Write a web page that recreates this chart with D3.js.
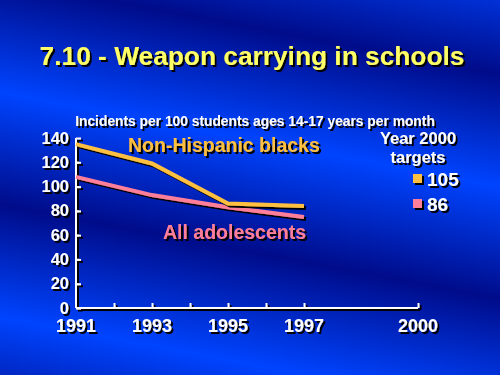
<!DOCTYPE html>
<html lang="en">
<head>
<meta charset="UTF-8">
<title>7.10 - Weapon carrying in schools</title>
<script src="https://d3js.org/d3.v7.min.js"></script>
<style>
    body { margin: 0; background: #0030d0; }
    svg { display: block; }
    text { font-family: "Liberation Sans", Arial, sans-serif; font-weight: bold; }
</style>
</head>
<body>
<div id="chart"></div>
<script>
    // data
    var years = [1991, 1993, 1995, 1997];
    var blacks = [135, 119, 86, 84];
    var allTeens = [108, 93, 83, 75];
    var yTicks = [0, 20, 40, 60, 80, 100, 120, 140];
    var xLabels = [1991, 1993, 1995, 1997, 2000];
    var xTicks = [1992, 1993, 1994, 1995, 1996, 1997, 2000];
    var targets = [105, 86];

    var W = 500, H = 375;
    var orange = "#ffbf3f", pink = "#ff7f9a", yellow = "#ffff66";

    var svg = d3.select("#chart").append("svg")
        .attr("width", W)
        .attr("height", H);

    var defs = svg.append("defs");

    // diagonal banded blue background
    var grad = defs.append("linearGradient")
        .attr("id", "bg")
        .attr("gradientUnits", "userSpaceOnUse")
        .attr("spreadMethod", "repeat")
        .attr("x1", 15).attr("y1", 95)
        .attr("x2", -26).attr("y2", 312);
    grad.append("stop").attr("offset", 0).attr("stop-color", "#0044ff");
    grad.append("stop").attr("offset", 0.5).attr("stop-color", "#000c8a");
    grad.append("stop").attr("offset", 1).attr("stop-color", "#0044ff");

    var f = defs.append("filter").attr("id", "shadow")
        .attr("x", "-10%").attr("y", "-10%").attr("width", "130%").attr("height", "140%");
    f.append("feDropShadow")
        .attr("dx", 2).attr("dy", 2)
        .attr("stdDeviation", 0)
        .attr("flood-color", "#000")
        .attr("flood-opacity", 1);

    svg.append("rect")
        .attr("width", W).attr("height", H)
        .attr("fill", "url(#bg)");

    // title
    svg.append("text")
        .attr("x", 252).attr("y", 65)
        .attr("text-anchor", "middle")
        .attr("font-size", 26.3)
        .attr("fill", yellow)
        .attr("filter", "url(#shadow)")
        .text("7.10 - Weapon carrying in schools");

    svg.append("text")
        .attr("x", 255).attr("y", 126)
        .attr("text-anchor", "middle")
        .attr("font-size", 13.8)
        .attr("fill", "#fff")
        .attr("filter", "url(#shadow)")
        .text("Incidents per 100 students ages 14-17 years per month");

    var x = d3.scaleLinear().domain([1991, 2000]).range([76, 418]);
    var y = d3.scaleLinear().domain([0, 140]).range([308, 138]);

    var axes = svg.append("g").attr("filter", "url(#shadow)");

    // y axis
    var yAxis = axes.append("g")
        .attr("transform", "translate(76,0)")
        .call(d3.axisRight(y).tickValues(yTicks).tickSize(5).tickFormat(""));
    // x axis
    var xAxis = axes.append("g")
        .attr("transform", "translate(0,308)")
        .call(d3.axisTop(x).tickValues(xTicks).tickSize(5).tickFormat(""));

    axes.selectAll(".domain, .tick line")
        .attr("stroke", "#fff")
        .attr("stroke-width", 2);
    yAxis.select(".domain").attr("d", "M0," + y(0) + "V" + y(140));
    xAxis.select(".domain").attr("d", "M" + x(1991) + ",0H" + x(2000));

    // tick labels
    svg.append("g")
        .selectAll("text")
        .data(yTicks)
        .join("text")
        .attr("x", 69)
        .attr("y", d => y(d) + 5.5)
        .attr("text-anchor", "end")
        .attr("font-size", 16.5)
        .attr("fill", "#fff")
        .attr("filter", "url(#shadow)")
        .text(d => d);

    svg.append("g")
        .selectAll("text")
        .data(xLabels)
        .join("text")
        .attr("x", d => x(d))
        .attr("y", 332)
        .attr("text-anchor", "middle")
        .attr("font-size", 18)
        .attr("fill", "#fff")
        .attr("filter", "url(#shadow)")
        .text(d => d);

    // lines
    var line = d3.line()
        .x((d, i) => x(years[i]))
        .y(d => y(d));

    svg.append("path")
        .datum(allTeens)
        .attr("d", line)
        .attr("fill", "none")
        .attr("stroke", pink)
        .attr("stroke-width", 4)
        .attr("filter", "url(#shadow)");

    svg.append("path")
        .datum(blacks)
        .attr("d", line)
        .attr("fill", "none")
        .attr("stroke", orange)
        .attr("stroke-width", 4)
        .attr("filter", "url(#shadow)");

    // series labels
    svg.append("text")
        .attr("x", 128).attr("y", 152)
        .attr("font-size", 19.5)
        .attr("fill", orange)
        .attr("filter", "url(#shadow)")
        .text("Non-Hispanic blacks");

    svg.append("text")
        .attr("x", 163).attr("y", 239)
        .attr("font-size", 19.5)
        .attr("fill", pink)
        .attr("filter", "url(#shadow)")
        .text("All adolescents");

    // year 2000 targets
    var leg = svg.append("g").attr("filter", "url(#shadow)");
    leg.append("text")
        .attr("x", 418).attr("y", 144)
        .attr("text-anchor", "middle")
        .attr("font-size", 16.5)
        .attr("fill", "#fff")
        .text("Year 2000");
    leg.append("text")
        .attr("x", 418).attr("y", 163)
        .attr("text-anchor", "middle")
        .attr("font-size", 16.5)
        .attr("fill", "#fff")
        .text("targets");

    var legColors = [orange, pink];
    leg.selectAll("rect.sw")
        .data(targets)
        .join("rect")
        .attr("class", "sw")
        .attr("x", 413)
        .attr("y", (d, i) => 174 + i * 25)
        .attr("width", 9).attr("height", 9)
        .attr("fill", (d, i) => legColors[i]);
    leg.selectAll("text.val")
        .data(targets)
        .join("text")
        .attr("class", "val")
        .attr("x", 427)
        .attr("y", (d, i) => 186 + i * 25)
        .attr("font-size", 19)
        .attr("fill", "#fff")
        .text(d => d);
</script>
</body>
</html>
